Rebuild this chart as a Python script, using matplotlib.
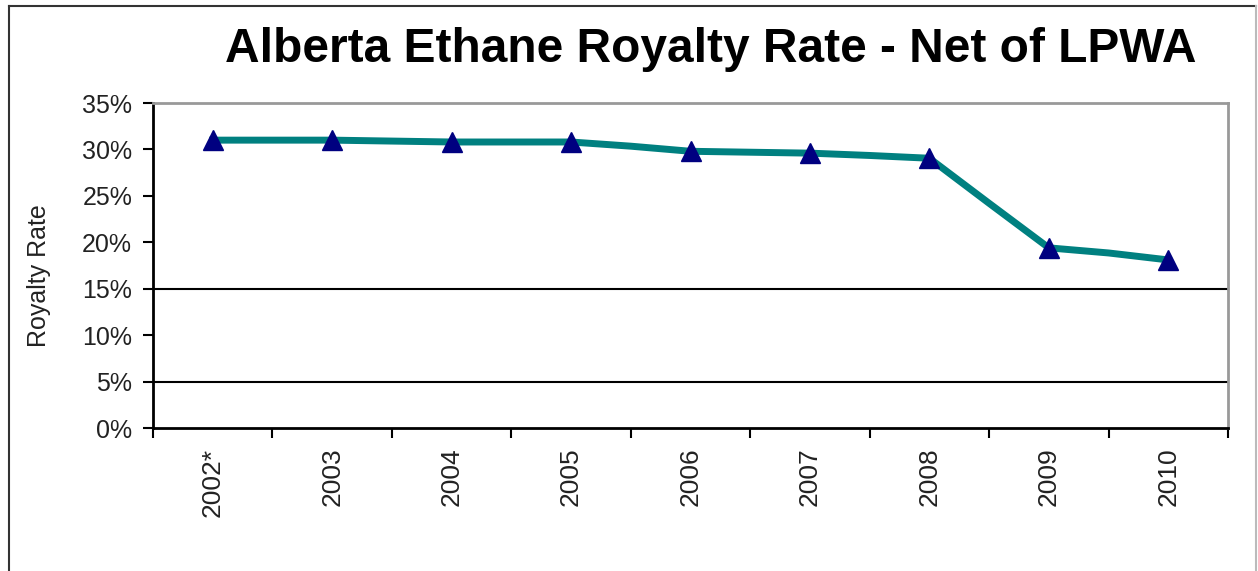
"""
Alberta ethane royalty rate, net of LPWA, 2002-2010.
"""

import matplotlib
matplotlib.use("Agg")
import matplotlib.pyplot as plt
from matplotlib.ticker import PercentFormatter, FixedLocator
from matplotlib.patches import Rectangle

plt.rcParams['font.family'] = ['Liberation Sans', 'DejaVu Sans']

years = ['2002*', '2003', '2004', '2005', '2006', '2007', '2008', '2009', '2010']
# yearly rate (%) - marker points
rate = [31.0, 31.0, 30.8, 30.8, 29.8, 29.6, 29.05, 19.4, 18.1]
# mid-year values between consecutive years, the line bends through these
rate_mid = [31.0, 30.9, 30.8, 30.35, 29.7, 29.35, 24.2, 18.85]

# line path: year, mid, year, mid, ...
line_x, line_y = [], []
for i, r in enumerate(rate):
    line_x.append(i)
    line_y.append(r)
    if i < len(rate_mid):
        line_x.append(i + 0.5)
        line_y.append(rate_mid[i])

fig = plt.figure(figsize=(12.58, 5.71), dpi=100)
ax = fig.add_axes([153/1258, 1 - 428/571, (1228 - 153)/1258, (428 - 103)/571])

# outer frame (left/top dark, right edge light)
fig.add_artist(plt.Line2D([9/1258, 9/1258], [0, 1 - 6/571], transform=fig.transFigure,
                          color='#333333', linewidth=1.5))
fig.add_artist(plt.Line2D([9/1258, 1256/1258], [1 - 6/571, 1 - 6/571],
                          transform=fig.transFigure, color='#333333', linewidth=1.5))
fig.add_artist(plt.Line2D([1256/1258, 1256/1258], [0, 1 - 6/571], transform=fig.transFigure,
                          color='#bbbbbb', linewidth=1.5))

for lev in [5, 15]:
    ax.axhline(lev, color='black', linewidth=1.5, zorder=1)

ax.plot(line_x, line_y, color='#008080', linewidth=5, solid_joinstyle='round', zorder=2)
ax.plot(range(len(years)), rate, linestyle='none', marker='^', markersize=15,
        color='#000080', zorder=3)

ax.set_xlim(-0.5, len(years) - 0.5)
ax.set_ylim(0, 35)
ax.set_yticks(range(0, 36, 5))
ax.yaxis.set_major_formatter(PercentFormatter(decimals=0))
ax.set_xticks(range(len(years)))
ax.set_xticklabels(years, rotation=90)
ax.xaxis.set_minor_locator(FixedLocator([i - 0.5 for i in range(len(years) + 1)]))
ax.tick_params(axis='x', which='major', length=0, pad=14, labelsize=19,
               labelcolor='#222222')
ax.tick_params(axis='x', which='minor', length=7, width=1.5, direction='out')
ax.tick_params(axis='y', length=7, width=1.5, direction='out', pad=8, labelsize=18,
               labelcolor='#222222')

for s in ['left', 'bottom']:
    ax.spines[s].set_color('black')
    ax.spines[s].set_linewidth(2)
for s in ['top', 'right']:
    ax.spines[s].set_color('#999999')
    ax.spines[s].set_linewidth(2)

fig.text(39/1258, 1 - 276/571, 'Royalty Rate', rotation=90, ha='center', va='center',
         fontsize=18, color='#222222')
fig.text(711/1258, 1 - 62/571, 'Alberta Ethane Royalty Rate - Net of LPWA',
         ha='center', va='baseline', fontsize=34.5, fontweight='bold')

fig.savefig('out.png', dpi=100)
